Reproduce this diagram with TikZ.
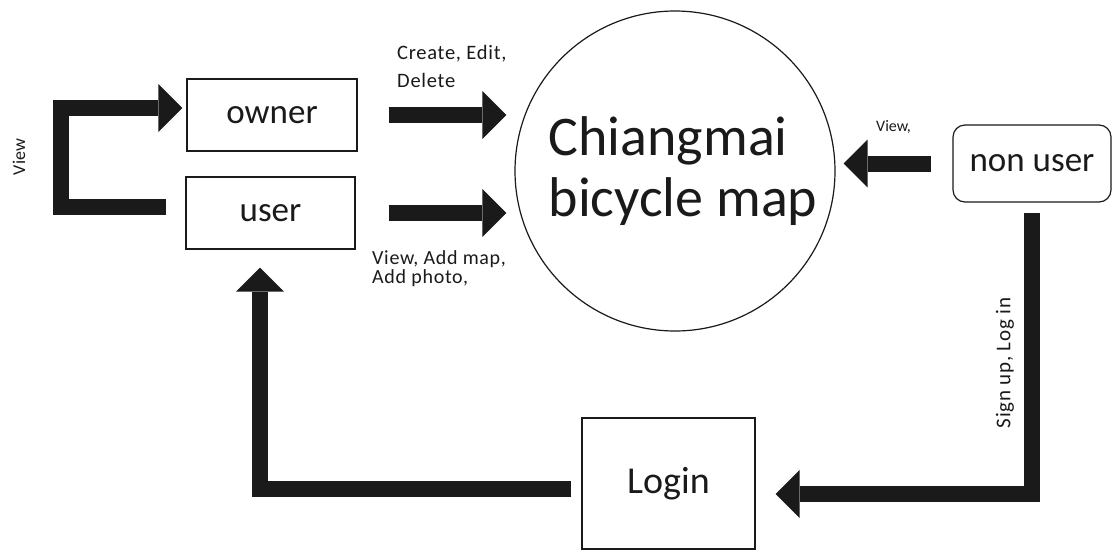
\documentclass[tikz,border=0pt]{standalone}
\usepackage{fontspec}
\setmainfont{Carlito}
\usetikzlibrary{arrows.meta}
\definecolor{ink}{HTML}{1A1A1A}
\begin{document}
\begin{tikzpicture}[x=1pt,y=-1pt,
  box/.style={draw=ink, line width=1.2pt, inner sep=0pt, text=ink,
              font=\fontsize{35}{40}\selectfont},
  bigarrow/.style={draw=ink, line width=16pt, line join=miter,
              -{Triangle[width=48pt,length=24pt,line width=0pt]}},
  lbl/.style={inner sep=0pt, align=left, text=ink},
  tracked/.style={font=\fontsize{#1}{#1}\selectfont\addfontfeatures{LetterSpace=3.5}}]

% page
\fill[white] (0,0) rectangle (1113,555);

% actors and the central system
\node[box, minimum width=170pt, minimum height=72pt] (owner) at (272,115) {owner};
\node[box, minimum width=169pt, minimum height=72pt] (user) at (270.5,213) {user};
\node[box, rounded corners=12pt, minimum width=158pt, minimum height=77pt] (nonuser) at (1032,163.5) {non user};
\node[box, minimum width=173pt, minimum height=131pt,
      font=\fontsize{38}{42}\selectfont] (login) at (668.5,483.5) {Login};
\node[circle, draw=ink, line width=1.2pt, minimum size=320pt, inner sep=0pt,
      align=left, text=ink, font=\fontsize{56}{61}\selectfont] (map) at (675,171)
      {\hspace*{16pt}Chiangmai\\\hspace*{16pt}bicycle map};

% straight flows into the map
\draw[bigarrow, shorten <=31pt, shorten >=8pt] (owner.east) -- (owner.east -| map.west);
\draw[bigarrow, shorten <=33pt, shorten >=8pt] (user.east) -- (user.east -| map.west);
\draw[bigarrow, shorten <=21pt, shorten >=8pt] (nonuser.west) -- (nonuser.west -| map.east);

% non user -> login
\coordinate (sgn) at (1032,494);
\draw[bigarrow, shorten <=10pt, shorten >=20pt] (nonuser.south) -- (sgn) -- (sgn -| login.east);

% login -> user
\coordinate (lgn) at (260,488.5);
\draw[bigarrow, shorten <=10pt, shorten >=18pt] (login.west |- lgn) -- (lgn) -- (lgn |- user.south);

% user -> owner (view)
\coordinate (vb) at (61,207);
\coordinate (vt) at (61,108);
\draw[bigarrow, shorten <=19pt, shorten >=4pt] (user.west |- vb) -- (vb) -- (vt) -- (owner.west |- vt);

% flow labels
\node[lbl, anchor=north west, tracked=20.5, execute at begin node=\setlength{\baselineskip}{28pt}] (lcreate) at (397,45) {Create, Edit,\\Delete};
\node[lbl, anchor=north west, tracked=20, execute at begin node=\setlength{\baselineskip}{19pt}] (lview) at (372,250) {View, Add map,\\Add photo,};
\node[lbl, anchor=north west, font=\fontsize{16}{18}\selectfont] (lnv) at (876,120) {View,};
\node[lbl, rotate=90, font=\fontsize{18}{20}\selectfont] (lown) at (19,157) {View};
\node[lbl, rotate=90, tracked=21] (lsign) at (1005,363) {Sign up, Log in};
\end{tikzpicture}
\end{document}
